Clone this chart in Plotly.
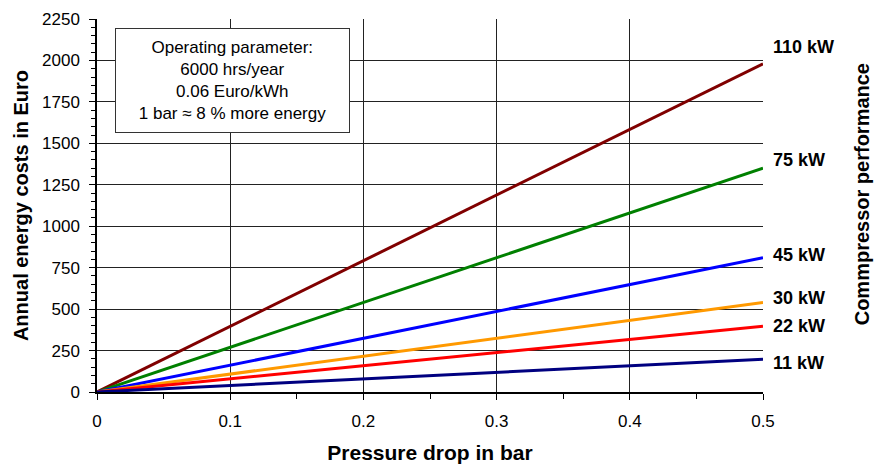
import plotly.graph_objects as go

pressure_drop = [0.0, 0.5]
series_names = ["110 kW", "75 kW", "45 kW", "30 kW", "22 kW", "11 kW"]
cost_110 = [0, 1980]
cost_75 = [0, 1350]
cost_45 = [0, 810]
cost_30 = [0, 540]
cost_22 = [0, 396]
cost_11 = [0, 198]
x_ticks = [0, 0.1, 0.2, 0.3, 0.4, 0.5]
y_ticks = [0, 250, 500, 750, 1000, 1250, 1500, 1750, 2000, 2250]

# styling
colors = ["#800000", "#008000", "#0000FF", "#FF9900", "#FF0000", "#000080"]
label_yshift = [17, 8, 3, 4, 0, -4]
FONT = "Liberation Sans, Arial, sans-serif"

all_costs = [cost_110, cost_75, cost_45, cost_30, cost_22, cost_11]

fig = go.Figure()
for name, ys, c, sh in zip(series_names, all_costs, colors, label_yshift):
    fig.add_trace(go.Scatter(x=pressure_drop, y=ys, mode="lines", name=name,
                             line=dict(color=c, width=3), showlegend=False))
    fig.add_annotation(x=1.0, xref="paper", y=ys[-1], yref="y", text="<b>%s</b>" % name,
                       showarrow=False, xanchor="left", xshift=8, yshift=sh,
                       font=dict(family=FONT, size=18, color="black"))

fig.add_annotation(x=1.0, xref="paper", xshift=99, y=0.53, yref="paper",
                   text="<b>Commpressor performance</b>", textangle=-90, showarrow=False,
                   xanchor="center", yanchor="middle",
                   font=dict(family=FONT, size=20, color="black"))

fig.add_annotation(x=0.203, xref="paper", y=0.835, yref="paper",
                   text="Operating parameter:<br>6000 hrs/year<br>0.06 Euro/kWh<br>1 bar \u2248 8 % more energy",
                   showarrow=False, align="center", xanchor="center", yanchor="middle",
                   width=231, height=101, borderpad=1, bordercolor="#333", borderwidth=1,
                   bgcolor="white",
                   font=dict(family=FONT, size=17, color="black"))

fig.update_layout(
    width=879, height=456,
    margin=dict(l=89, r=124, t=11, b=72, autoexpand=False),
    paper_bgcolor="white", plot_bgcolor="white",
    font=dict(family=FONT, size=17, color="black"),
    xaxis=dict(range=[0, 0.5], tickvals=x_ticks, ticktext=[str(v) for v in x_ticks],
               showgrid=True, gridcolor="#222", gridwidth=1,
               showline=True, linecolor="black", linewidth=1.5,
               ticks="outside", ticklen=6, tickcolor="black", ticklabelstandoff=7,
               minor=dict(dtick=0.05, ticks="outside", ticklen=5, tickcolor="black", showgrid=False),
               zeroline=False,
               title=dict(text="<b>Pressure drop in bar</b>", font=dict(size=21), standoff=15)),
    yaxis=dict(range=[0, 2250], tickvals=y_ticks,
               showgrid=True, gridcolor="#222", gridwidth=1,
               showline=True, linecolor="black", linewidth=1.5,
               ticks="outside", ticklen=6, tickcolor="black", ticklabelstandoff=6,
               minor=dict(dtick=50, ticks="outside", ticklen=4, tickcolor="black", showgrid=False),
               zeroline=False,
               title=dict(text="<b>Annual energy costs in Euro</b>", font=dict(size=20), standoff=8)),
)

fig.write_html("out.html")
